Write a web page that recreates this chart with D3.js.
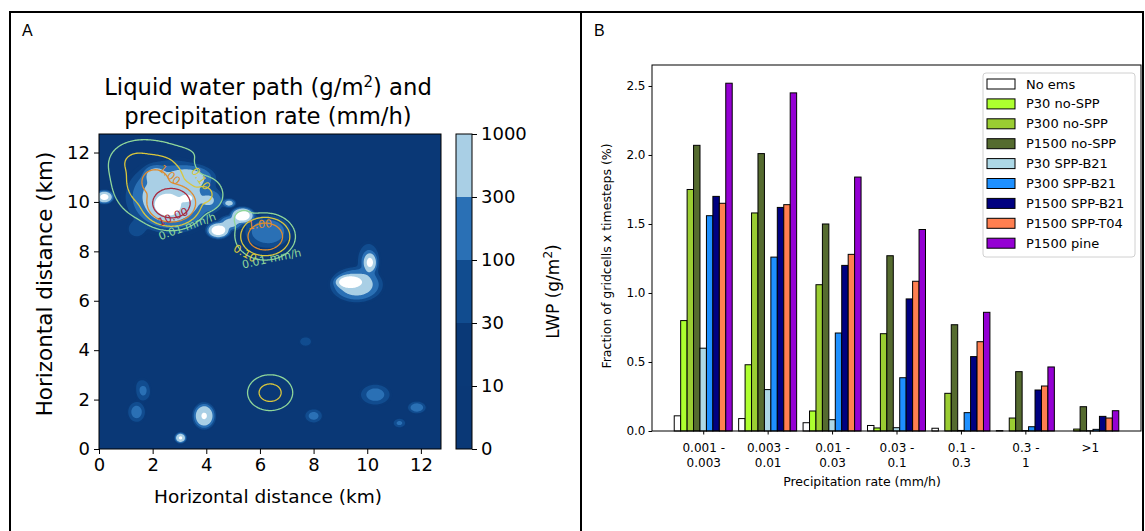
<!DOCTYPE html>
<html>
<head>
<meta charset="utf-8">
<script src="https://cdn.jsdelivr.net/npm/d3@7"></script>
<style>
  body { margin: 0; background: #fff; }
  svg { display: block; }
  text { font-family: "DejaVu Sans", sans-serif; fill: #000; }
</style>
</head>
<body>
<svg id="fig" width="1145" height="531"></svg>
<script>
// ---- panel A: LWP field (g/m2) and precipitation contours (mm/h) ----
const kmTicks = [0, 2, 4, 6, 8, 10, 12];
const lwpLevels = [0, 10, 30, 100, 300, 1000];
const lwpColors = ['#0a3876', '#0a3977', '#114c8f', '#2a70b5', '#a9cfe5'];
const lwpOver = '#ffffff';
// cloud cells: x km, y km, radius x km, radius y km, peak LWP
const lwpCells = [
  [2.7, 10.2, 1.55, 1.35, 650],
  [2.55, 9.85, 0.65, 0.6, 1200],
  [3.3, 10.15, 0.35, 0.25, 700],
  [3.4, 11.0, 0.9, 0.5, 350],
  [2.1, 11.1, 0.45, 0.4, 400],
  [4.2, 10.05, 0.45, 0.45, 250],
  [5.35, 9.45, 0.4, 0.3, 2000],
  [4.45, 8.85, 0.4, 0.3, 1800],
  [4.9, 9.15, 0.45, 0.3, 450],
  [4.85, 9.95, 0.25, 0.18, 450],
  [6.3, 8.8, 0.9, 0.7, 200],
  [9.35, 6.76, 0.5, 0.27, 2500],
  [9.6, 6.65, 0.9, 0.65, 600],
  [10.1, 7.55, 0.25, 0.4, 1100],
  [10.05, 7.6, 0.45, 0.8, 140],
  [3.92, 1.34, 0.38, 0.48, 1050],
  [3.04, 0.45, 0.2, 0.2, 1100],
  [0.2, 10.2, 0.32, 0.25, 1300],
  [1.4, 1.5, 0.35, 0.45, 150],
  [1.65, 2.3, 0.3, 0.4, 110],
  [8.0, 1.34, 0.35, 0.3, 140],
  [10.3, 2.2, 0.6, 0.45, 150],
  [11.85, 1.68, 0.35, 0.25, 200],
  [11.2, 1.05, 0.25, 0.2, 120],
  [7.7, 4.35, 0.3, 0.25, 60],
  [1.4, 8.9, 0.4, 0.4, 70],
  [1.6, 2.6, 0.35, 0.35, 40]
];
const rainLevels = [0.01, 0.1, 1, 10];
const rainColors = ['#8fd69a', '#d9c63c', '#df8b2e', '#a8283c'];
// rain cells: x km, y km, scale x km, scale y km, peak rate, fall-off shape
const rainCells = [
  [2.7, 9.95, 0.2, 0.17, 30000, 1],
  [2.1, 10.8, 0.55, 0.55, 8, 1],
  [1.4, 11.6, 0.6, 0.5, 0.4, 1],
  [3.9, 10.3, 0.4, 0.4, 0.6, 1],
  [3.0, 11.9, 0.6, 0.3, 0.05, 1],
  [6.2, 8.6, 0.65, 0.55, 9.5, 2],
  [5.4, 9.3, 0.5, 0.5, 0.05, 1],
  [6.38, 2.28, 0.43, 0.37, 0.9, 1]
];
// label anchor x km, y km, angle, level index, text
const rainLabels = [
  [2.63, 11.09, 40, 2, '1.00'],
  [3.79, 10.93, 55, 1, '0.10'],
  [2.76, 9.39, -22, 3, '10.00'],
  [3.29, 9.0, -20, 0, '0.01 mm/h'],
  [6.0, 9.08, -5, 2, '1.00'],
  [5.44, 7.91, 30, 1, '0.10'],
  [6.44, 7.7, -12, 0, '0.01 mm/h']
];

// ---- panel B: fraction of gridcells x timesteps (%) ----
const rateBins = [['0.001 -', '0.003'], ['0.003 -', '0.01'], ['0.01 -', '0.03'],
  ['0.03 -', '0.1'], ['0.1 -', '0.3'], ['0.3 -', '1'], ['>1', '']];
const runNames = ['No ems', 'P30 no-SPP', 'P300 no-SPP', 'P1500 no-SPP', 'P30 SPP-B21',
  'P300 SPP-B21', 'P1500 SPP-B21', 'P1500 SPP-T04', 'P1500 pine'];
const runColors = ['#ffffff', '#adff2f', '#9acd32', '#556b2f', '#add8e6',
  '#1e90ff', '#000080', '#ff7f50', '#9400d3'];
const noEms      = [0.11, 0.09, 0.06, 0.04, 0.02, 0.003, 0];
const p30NoSpp   = [0.80, 0.48, 0.145, 0.022, 0, 0, 0];
const p300NoSpp  = [1.75, 1.58, 1.06, 0.705, 0.273, 0.094, 0.014];
const p1500NoSpp = [2.07, 2.01, 1.50, 1.27, 0.77, 0.43, 0.176];
const p30B21     = [0.60, 0.30, 0.082, 0.024, 0.004, 0.003, 0.002];
const p300B21    = [1.56, 1.26, 0.71, 0.386, 0.133, 0.031, 0.012];
const p1500B21   = [1.70, 1.62, 1.20, 0.957, 0.539, 0.297, 0.106];
const p1500T04   = [1.65, 1.64, 1.28, 1.085, 0.647, 0.326, 0.094];
const p1500Pine  = [2.52, 2.45, 1.84, 1.46, 0.86, 0.464, 0.147];
const yTicksB = [0, 0.5, 1, 1.5, 2, 2.5];

const svg = d3.select('#fig');

// outer figure frame
const frame = svg.append('g').attr('stroke', '#000').attr('stroke-width', 2);
frame.append('line').attr('x1', 10).attr('x2', 1143).attr('y1', 12).attr('y2', 12);
frame.append('line').attr('x1', 10).attr('x2', 10).attr('y1', 11).attr('y2', 531);
frame.append('line').attr('x1', 581).attr('x2', 581).attr('y1', 11).attr('y2', 531);
frame.append('line').attr('x1', 1143).attr('x2', 1143).attr('y1', 11).attr('y2', 531);
svg.append('text').attr('x', 22).attr('y', 36).style('font-family', 'Liberation Sans, sans-serif')
  .style('font-size', '16px').text('A');
svg.append('text').attr('x', 594).attr('y', 36).style('font-family', 'Liberation Sans, sans-serif')
  .style('font-size', '16px').text('B');

// ================= panel A =================
const xA = d3.scaleLinear().domain([0, 12.75]).range([99, 441]);
const yA = d3.scaleLinear().domain([0, 12.75]).range([449, 134]);

const n = 320;
const step = 12.75 / n;
// shape 3: flat-topped cloud cells, shape 1: rain falling off evenly per decade
const field = (cells, x, y, shape) => {
  let v = 0;
  for (const [cx, cy, sx, sy, p, s] of cells) {
    const d = Math.hypot((x - cx) / sx, (y - cy) / sy);
    v += p * Math.pow(10, -Math.pow(d, s || shape));
  }
  return v;
};
const lwpGrid = new Float64Array(n * n);
const rainGrid = new Float64Array(n * n);
for (let j = 0; j < n; j++) {
  for (let i = 0; i < n; i++) {
    const x = (i + 0.5) * step, y = (j + 0.5) * step;
    lwpGrid[j * n + i] = field(lwpCells, x, y, 3);
    rainGrid[j * n + i] = field(rainCells, x, y, 1);
  }
}
const toPx = d3.geoPath(d3.geoTransform({
  point(x, y) { this.stream.point(xA(x * step), yA(y * step)); }
}));

svg.append('clipPath').attr('id', 'clipA').append('rect')
  .attr('x', xA(0)).attr('y', yA(12.75))
  .attr('width', xA(12.75) - xA(0)).attr('height', yA(0) - yA(12.75));

const mapG = svg.append('g').attr('clip-path', 'url(#clipA)');
mapG.append('rect')
  .attr('x', xA(0)).attr('y', yA(12.75))
  .attr('width', xA(12.75) - xA(0)).attr('height', yA(0) - yA(12.75))
  .attr('fill', lwpColors[0]);

const fillLevels = lwpLevels.slice(1);
const lwpContours = d3.contours().size([n, n]).thresholds(fillLevels)(lwpGrid);
mapG.selectAll('path.lwp')
  .data(lwpContours)
  .enter()
  .append('path')
  .attr('class', 'lwp')
  .attr('d', toPx)
  .attr('fill', (c, i) => i + 1 < lwpColors.length ? lwpColors[i + 1] : lwpOver);

const rainContours = d3.contours().size([n, n]).thresholds(rainLevels)(rainGrid);
mapG.selectAll('path.rain')
  .data(rainContours)
  .enter()
  .append('path')
  .attr('class', 'rain')
  .attr('d', toPx)
  .attr('fill', 'none')
  .attr('stroke', (c, i) => rainColors[i])
  .attr('stroke-width', 1.3);

mapG.selectAll('text.clabel')
  .data(rainLabels)
  .enter()
  .append('text')
  .attr('class', 'clabel')
  .attr('transform', l => `translate(${xA(l[0])},${yA(l[1])}) rotate(${l[2]})`)
  .attr('text-anchor', 'middle')
  .attr('dominant-baseline', 'central')
  .style('font-size', '11px')
  .style('fill', l => rainColors[l[3]])
  .text(l => l[4]);

svg.append('rect')
  .attr('x', xA(0)).attr('y', yA(12.75))
  .attr('width', xA(12.75) - xA(0)).attr('height', yA(0) - yA(12.75))
  .attr('fill', 'none').attr('stroke', '#000').attr('stroke-width', 1);

const axA = svg.append('g').attr('transform', `translate(0,${yA(0)})`)
  .call(d3.axisBottom(xA).tickValues(kmTicks).tickSize(5).tickPadding(4));
const ayA = svg.append('g').attr('transform', `translate(${xA(0)},0)`)
  .call(d3.axisLeft(yA).tickValues(kmTicks).tickSize(5).tickPadding(4));
[axA, ayA].forEach(g => {
  g.select('.domain').remove();
  g.selectAll('text').style('font-size', '18px').style('font-family', 'DejaVu Sans');
});

svg.append('text').attr('x', 268).attr('y', 95).attr('text-anchor', 'middle')
  .style('font-size', '22.7px').html('Liquid water path (g/m<tspan dy="-8" style="font-size:15px">2</tspan><tspan dy="8">) and</tspan>');
svg.append('text').attr('x', 268).attr('y', 124).attr('text-anchor', 'middle')
  .style('font-size', '22.7px').text('precipitation rate (mm/h)');
svg.append('text').attr('x', 268).attr('y', 503).attr('text-anchor', 'middle')
  .style('font-size', '18.5px').text('Horizontal distance (km)');
svg.append('text').attr('transform', `translate(52,284) rotate(-90)`)
  .attr('text-anchor', 'middle').style('font-size', '21.5px').text('Horizontal distance (km)');

// colorbar
const cbY = d3.scaleLinear().domain([0, lwpColors.length]).range([449, 134]);
const cbG = svg.append('g');
cbG.selectAll('rect')
  .data(lwpColors)
  .enter()
  .append('rect')
  .attr('x', 456).attr('width', 16)
  .attr('y', (c, i) => cbY(i + 1))
  .attr('height', (c, i) => cbY(i) - cbY(i + 1))
  .attr('fill', c => c);
cbG.append('rect').attr('x', 456).attr('width', 16).attr('y', cbY(5)).attr('height', cbY(0) - cbY(5))
  .attr('fill', 'none').attr('stroke', '#000').attr('stroke-width', 1);
const cbAxis = svg.append('g').attr('transform', 'translate(472,0)')
  .call(d3.axisRight(cbY).tickValues(d3.range(lwpLevels.length)).tickFormat(i => lwpLevels[i])
    .tickSize(5).tickPadding(4));
cbAxis.select('.domain').remove();
cbAxis.selectAll('text').style('font-size', '18px').style('font-family', 'DejaVu Sans');
svg.append('text').attr('transform', `translate(559,${(cbY(0) + cbY(5)) / 2}) rotate(-90)`)
  .attr('text-anchor', 'middle').style('font-size', '17px')
  .html('LWP (g/m<tspan dy="-7" style="font-size:12px">2</tspan><tspan dy="7">)</tspan>');

// ================= panel B =================
const series = [noEms, p30NoSpp, p300NoSpp, p1500NoSpp, p30B21, p300B21, p1500B21, p1500T04, p1500Pine];
const xB = d3.scaleLinear().domain([-0.795, 6.795]).range([652, 1141]);
const yB = d3.scaleLinear().domain([0, 2.652]).range([431, 65]);
const barW = 0.1;

const barsG = svg.append('g');
series.forEach((vals, k) => {
  barsG.append('g')
    .selectAll('rect')
    .data(vals)
    .enter()
    .append('rect')
    .attr('x', (v, i) => xB(i + (k - 4.5) * barW))
    .attr('width', xB(barW) - xB(0))
    .attr('y', v => yB(v))
    .attr('height', v => yB(0) - yB(v))
    .attr('fill', runColors[k])
    .attr('stroke', '#000')
    .attr('stroke-width', 1);
});

svg.append('rect').attr('x', xB.range()[0]).attr('y', yB.range()[1])
  .attr('width', xB.range()[1] - xB.range()[0]).attr('height', yB.range()[0] - yB.range()[1])
  .attr('fill', 'none').attr('stroke', '#000').attr('stroke-width', 1);

const ayB = svg.append('g').attr('transform', `translate(${xB.range()[0]},0)`)
  .call(d3.axisLeft(yB).tickValues(yTicksB).tickFormat(d3.format('.1f')).tickSize(3.5).tickPadding(3));
ayB.select('.domain').remove();
ayB.selectAll('text').style('font-size', '12px').style('font-family', 'DejaVu Sans');

const axB = svg.append('g').attr('transform', `translate(0,${yB(0)})`)
  .call(d3.axisBottom(xB).tickValues(d3.range(rateBins.length)).tickSize(3.5).tickFormat(''));
axB.select('.domain').remove();
axB.selectAll('.tick').each(function (d) {
  const t = d3.select(this).append('text').attr('text-anchor', 'middle')
    .style('font-size', '12px').style('font-family', 'DejaVu Sans');
  t.append('tspan').attr('x', 0).attr('y', 21).text(rateBins[d][0]);
  t.append('tspan').attr('x', 0).attr('y', 36).text(rateBins[d][1]);
});

svg.append('text').attr('x', 862).attr('y', 486).attr('text-anchor', 'middle')
  .style('font-size', '12.5px').text('Precipitation rate (mm/h)');
svg.append('text').attr('transform', `translate(611,256) rotate(-90)`)
  .attr('text-anchor', 'middle').style('font-size', '12.5px').text('Fraction of gridcells x timesteps (%)');

// legend
const leg = svg.append('g').attr('transform', 'translate(983,73)');
leg.append('rect').attr('width', 152).attr('height', 184).attr('rx', 3)
  .attr('fill', '#fff').attr('stroke', '#d0d0d0');
const legItems = leg.selectAll('g.item')
  .data(runNames)
  .enter()
  .append('g')
  .attr('transform', (d, i) => `translate(0,${11 + i * 19.9})`);
legItems.append('rect').attr('x', 4).attr('y', -5).attr('width', 28).attr('height', 10)
  .attr('fill', (d, i) => runColors[i]).attr('stroke', '#000').attr('stroke-width', 1);
legItems.append('text').attr('x', 43).attr('dominant-baseline', 'central')
  .style('font-size', '13px').text(d => d);
</script>
</body>
</html>
